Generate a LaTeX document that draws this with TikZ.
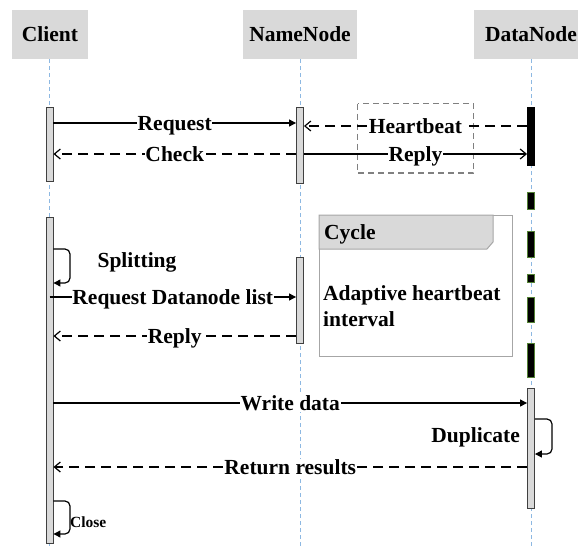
\documentclass[tikz,border=0pt]{standalone}
\usepackage{fontspec}
\setmainfont{Liberation Serif}
\usetikzlibrary{arrows.meta}

\definecolor{boxgray}{HTML}{D9D9D9}
\definecolor{lifeblue}{HTML}{8DB8E2}
\definecolor{actline}{HTML}{404040}
\definecolor{framegray}{HTML}{A6A6A6}
\definecolor{hbgray}{HTML}{808080}
\definecolor{segreen}{HTML}{548235}

\tikzset{
  bigfont/.style={font=\fontsize{21.5}{26}\selectfont\bfseries},
  txt/.style={bigfont, inner sep=0pt, text height=14pt, text depth=0pt},
  hdr/.style={txt, fill=boxgray, minimum height=49pt, anchor=north},
  life/.style={draw=lifeblue, line width=0.8pt, dash pattern=on 4pt off 3pt},
  act/.style={draw=actline, fill=boxgray, line width=0.9pt, minimum width=7pt, inner sep=0pt, anchor=north},
  busy/.style={draw=black, fill=black, line width=0.9pt, minimum width=7pt, inner sep=0pt, anchor=north},
  seg/.style={draw=segreen, fill=black, line width=0.8pt, minimum width=7pt, inner sep=0pt, anchor=north},
  msg/.style={draw=black, line width=1.2pt},
  call/.style={msg, -{Triangle[length=7pt,width=7pt]}},
  back/.style={msg, dash pattern=on 10pt off 6pt, -{Straight Barb[length=6pt,width=10pt,line width=1.2pt]}},
  reply/.style={msg, -{Straight Barb[length=6pt,width=10pt,line width=1.2pt]}},
  lbl/.style={txt, fill=white, inner xsep=0.6pt, inner ysep=1.5pt},
  selfloop/.style={msg, rounded corners=5pt, -{Triangle[length=7pt,width=7pt]}},
}

\begin{document}
\begin{tikzpicture}[x=1pt, y=-1pt]
\useasboundingbox (0,0) rectangle (578,546);

% participants
\node[hdr, minimum width=76pt] (cl) at (50,10) {Client};
\node[hdr, minimum width=114pt] (nn) at (300,10) {NameNode};
\node[hdr, minimum width=114pt] (dn) at (531,10) {DataNode};

% lifelines
\coordinate (clEnd) at (49.5,546);
\coordinate (nnEnd) at (300,546);
\coordinate (dnEnd) at (531,546);
\draw[life] (cl.south -| clEnd) -- (clEnd);
\draw[life] (nn.south -| nnEnd) -- (nnEnd);
\draw[life] (dn.south -| dnEnd) -- (dnEnd);

% heartbeat frame
\draw[draw=hbgray, line width=1.2pt, dash pattern=on 6pt off 4pt] (357.5,103.5) rectangle (473.5,173);

% activation bars
\node[act, minimum height=74pt] (ca1) at (49.5,107) {};
\node[act, minimum height=76pt] (na1) at (300,107) {};
\node[busy, minimum height=58pt] (da1) at (531,107) {};
\node[act, minimum height=326pt] (ca2) at (49.5,217) {};
\node[act, minimum height=86pt] (na2) at (300,257) {};
\node[act, minimum height=120pt] (da2) at (531,388) {};

% intermittent DataNode activity
\node[seg, minimum height=17pt] (s1) at (531,192) {};
\node[seg, minimum height=26pt] (s2) at (531,231) {};
\node[seg, minimum height=8pt]  (s3) at (531,274) {};
\node[seg, minimum height=25pt] (s4) at (531,297) {};
\node[seg, minimum height=34pt] (s5) at (531,343) {};

% cycle frame
\node[draw=framegray, line width=1pt, minimum width=193pt, minimum height=141pt, anchor=north west, inner sep=0pt] (cyc) at (319,215) {};
\draw[draw=framegray, fill=boxgray, line width=1pt]
  (cyc.north west) -- (493,215) -- (493,242) -- (487,249) -- (319,249) -- cycle;
\node[txt, anchor=west] (cycT) at (324,232) {Cycle};
\node[bigfont, inner sep=0pt, anchor=base west, align=left] (cycB) at (323,326) {Adaptive heartbeat\\interval};

% first exchange
\draw[call] (ca1.east |- 0,123) -- node[lbl] {Request} (na1.west |- 0,123);
\draw[back] (da1.west |- 0,126) -- node[lbl] {Heartbeat} (na1.east |- 0,126);
\draw[back] (na1.west |- 0,154) -- node[lbl] {Check} (ca1.east |- 0,154);
\draw[reply] (na1.east |- 0,154) -- node[lbl] {Reply} (da1.west |- 0,154);

% block allocation
\draw[selfloop] (ca2.east |- 0,249) -- (70,249) -- (70,283) -- (ca2.east |- 0,283);
\node[txt] (split) at (137,260) {Splitting};
\draw[call] (ca2.center |- 0,297) -- node[lbl] {Request Datanode list} (na2.west |- 0,297);
\draw[back] (na2.west |- 0,336) -- node[lbl] {Reply} (ca2.east |- 0,336);

% writing
\draw[call] (ca2.east |- 0,403) -- node[lbl] {Write data} (da2.west |- 0,403);
\draw[selfloop] (da2.east |- 0,419) -- (552,419) -- (552,454) -- (da2.east |- 0,454);
\node[txt, anchor=east] (dup) at (520,435) {Duplicate};
\draw[back] (da2.west |- 0,467) -- node[lbl] {Return results} (ca2.east |- 0,467);

% closing
\draw[selfloop] (ca2.east |- 0,501) -- (70,501) -- (70,534) -- (ca2.east |- 0,534);
\node[inner sep=0pt, font=\fontsize{15.5}{18}\selectfont\bfseries, text height=10pt, text depth=0pt, anchor=west] (close) at (70,522) {Close};
\end{tikzpicture}
\end{document}
